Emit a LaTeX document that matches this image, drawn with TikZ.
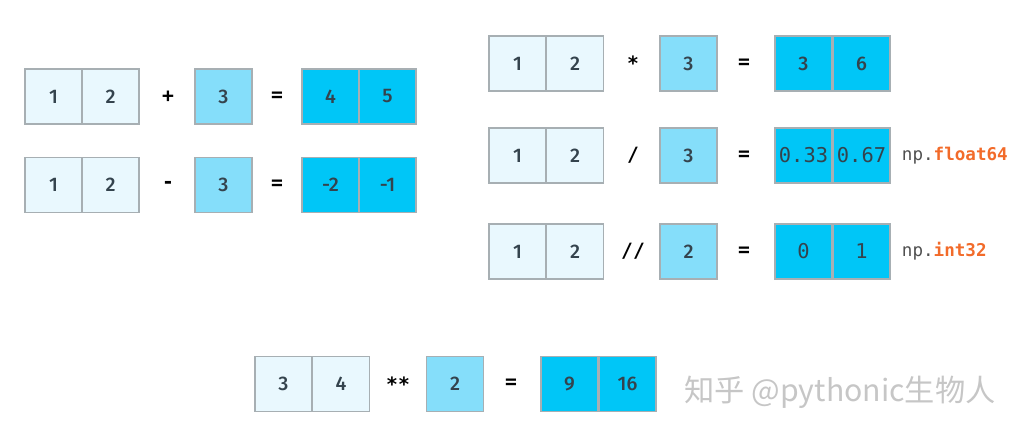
\documentclass[tikz,border=0pt]{standalone}
\usepackage{fontspec}
\setmainfont{Fira Sans}
\setmonofont{DejaVu Sans Mono}
\newfontfamily\cellfont{Fira Sans Medium}
\newfontfamily\cjkfont{Noto Sans CJK SC}
\usepackage{tikz}
\usetikzlibrary{positioning}

\definecolor{celllight}{HTML}{E9F8FE}
\definecolor{cellmid}{HTML}{85DEFA}
\definecolor{cellres}{HTML}{00C6F7}
\definecolor{cellline}{HTML}{A7AFB3}
\definecolor{digit}{HTML}{34434D}
\definecolor{npgrey}{HTML}{505050}
\definecolor{nporange}{HTML}{F26B2A}

\begin{document}
\begin{tikzpicture}[x=0.025cm,y=-0.025cm,
  cell/.style={draw=cellline,line width=0.9pt,minimum width=1.43cm,minimum height=1.38cm,
    inner sep=0pt,text=digit,font=\cellfont\fontsize{14}{16}\selectfont},
  lightcell/.style={cell,fill=celllight},
  midcell/.style={cell,fill=cellmid},
  rescell/.style={cell,fill=cellres},
  monocell/.style={rescell,font=\ttfamily\fontsize{14.5}{16}\selectfont},
  op/.style={font=\ttfamily\bfseries\fontsize{14}{16}\selectfont,text=black},
  dtype/.style={anchor=west,font=\ttfamily\fontsize{12.5}{14}\selectfont,text=npgrey}]
\useasboundingbox (0,0) rectangle (1022,428);

% addition
 \draw (53.5,96.5) node[lightcell] (a1) {1};
 \draw (110.5,96.5) node[lightcell] (a2) {2};
 \draw (168,96.5) node[op] (plus) {+};
 \draw (223.5,96.5) node[midcell] (a3) {3};
 \draw (277,96.5) node[op] (aeq) {=};
 \draw (330.5,96.5) node[rescell] (ar1) {4};
 \draw (387.5,96.5) node[rescell] (ar2) {5};

% subtraction
 \draw (53.5,185) node[lightcell] (s1) {1};
 \draw (110.5,185) node[lightcell] (s2) {2};
 \draw (168,185) node[op] (minus) {-};
 \draw (223.5,185) node[midcell] (s3) {3};
 \draw (277,185) node[op] (seq) {=};
 \draw (330.5,185) node[rescell] (sr1) {-2};
 \draw (387.5,185) node[rescell] (sr2) {-1};

% multiplication
 \draw (517.5,63.5) node[lightcell] (m1) {1};
 \draw (575,63.5) node[lightcell] (m2) {2};
 \draw (633,63.5) node[op] (times) {*};
 \draw (688.5,63.5) node[midcell] (m3) {3};
 \draw (744,63.5) node[op] (meq) {=};
 \draw (803.5,63.5) node[rescell] (mr1) {3};
 \draw (861.5,63.5) node[rescell] (mr2) {6};

% division
 \draw (517.5,155.5) node[lightcell] (d1) {1};
 \draw (575,155.5) node[lightcell] (d2) {2};
 \draw (633,155.5) node[op] (divide) {/};
 \draw (688.5,155.5) node[midcell] (d3) {3};
 \draw (744,155.5) node[op] (deq) {=};
 \draw (803.5,155.5) node[monocell] (dr1) {0.33};
 \draw (861.5,155.5) node[monocell] (dr2) {0.67};
 \draw (897,155.5) node[dtype] (float) {np.\textcolor{nporange}{\bfseries float64}};

% floor division
 \draw (517.5,251.5) node[lightcell] (f1) {1};
 \draw (575,251.5) node[lightcell] (f2) {2};
 \draw (633,251.5) node[op] (floordiv) {//};
 \draw (688.5,251.5) node[midcell] (f3) {2};
 \draw (744,251.5) node[op] (feq) {=};
 \draw (803.5,251.5) node[monocell] (fr1) {0};
 \draw (861.5,251.5) node[monocell] (fr2) {1};
 \draw (897,251.5) node[dtype] (int) {np.\textcolor{nporange}{\bfseries int32}};

% power
 \draw (283.5,384) node[lightcell] (p1) {3};
 \draw (341,384) node[lightcell] (p2) {4};
 \draw (398,384) node[op] (power) {**};
 \draw (455,384) node[midcell] (p3) {2};
 \draw (511,384) node[op] (peq) {=};
 \draw (569.5,384) node[rescell] (pr1) {9};
 \draw (627.5,384) node[rescell] (pr2) {16};

 \draw (840,392) node[text=gray!45,font=\cjkfont\fontsize{21.5}{24}\selectfont] (mark) {知乎 @pythonic生物人};
\end{tikzpicture}
\end{document}
